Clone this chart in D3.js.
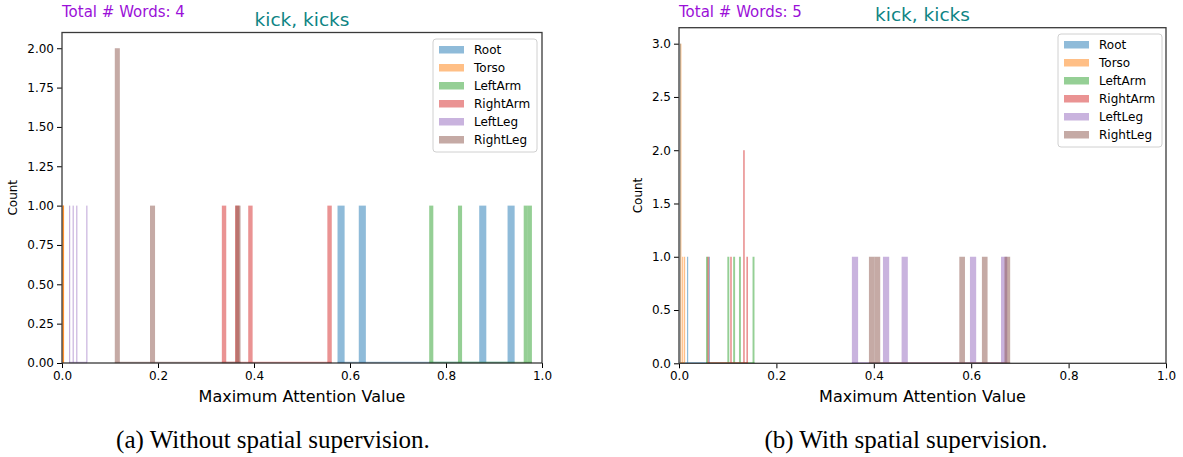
<!DOCTYPE html>
<html>
<head>
<meta charset="utf-8">
<script src="https://cdn.jsdelivr.net/npm/d3@7"></script>
<style>
  html, body { margin: 0; padding: 0; background: #fff; }
  svg { display: block; }
  text { font-family: "DejaVu Sans", sans-serif; }
</style>
</head>
<body>
<svg id="chart" width="1183" height="457"></svg>
<script>
// ---------------- DATA ----------------
const seriesNames = ["Root", "Torso", "LeftArm", "RightArm", "LeftLeg", "RightLeg"];
const seriesColors = ["#1f77b4", "#ff7f0e", "#2ca02c", "#d62728", "#9467bd", "#8c564b"];
const NUM_BINS = 25;

// Panel (a): Without spatial supervision (4 words)
const rootA     = [0.574, 0.626, 0.876, 0.943];
const torsoA    = [0.0005, 0.001, 0.0015, 0.002];
const leftArmA  = [0.765, 0.829, 0.966, 0.979];
const rightArmA = [0.333, 0.365, 0.392, 0.562];
const leftLegA  = [0.0146, 0.0229, 0.0297, 0.052];
const rightLegA = [0.110, 0.112, 0.189, 0.372];

// Panel (b): With spatial supervision (5 words)
const rootB     = [0.0015, 0.0025, 0.0035, 0.0165, 0.0635];
const torsoB    = [0.0025, 0.0026, 0.0027, 0.0065, 0.0105];
const leftArmB  = [0.0555, 0.1016, 0.114, 0.1235, 0.155];
const rightArmB = [0.0585, 0.107, 0.1325, 0.133, 0.1417];
const leftLegB  = [0.355, 0.425, 0.463, 0.603, 0.674];
const rightLegB = [0.390, 0.4075, 0.581, 0.6275, 0.680];

const xTicks  = [0.0, 0.2, 0.4, 0.6, 0.8, 1.0];
const yTicksA = [0.00, 0.25, 0.50, 0.75, 1.00, 1.25, 1.50, 1.75, 2.00];
const yTicksB = [0.0, 0.5, 1.0, 1.5, 2.0, 2.5, 3.0];

const titleText = "kick, kicks";
const wordsA = "Total # Words: 4";
const wordsB = "Total # Words: 5";
const captionA = "(a) Without spatial supervision.";
const captionB = "(b) With spatial supervision.";
const xLabel = "Maximum Attention Value";
const yLabel = "Count";

// ---------------- DRAW ----------------
const svg = d3.select("#chart");

function drawPanel(cfg) {
  const g = svg.append("g");
  const x = d3.scaleLinear().domain([0, 1]).range([cfg.left, cfg.right]);
  const y = d3.scaleLinear().domain([0, cfg.ymax]).range([cfg.bottom, cfg.top]);

  // bars
  cfg.series.forEach((vals, i) => {
    const lo = d3.min(vals), hi = d3.max(vals);
    const th = d3.range(1, NUM_BINS).map(k => lo + k * (hi - lo) / NUM_BINS);
    const bins = d3.bin().domain([lo, hi]).thresholds(th)(vals);
    const sg = g.append("g").attr("fill", seriesColors[i]).attr("fill-opacity", 0.5);
    // zero-height bin traces along the baseline
    sg.append("line")
      .attr("x1", x(lo)).attr("x2", x(hi))
      .attr("y1", y(0) - 0.5).attr("y2", y(0) - 0.5)
      .attr("stroke", seriesColors[i]).attr("stroke-opacity", 0.5).attr("stroke-width", 1.5);
    sg.selectAll("rect")
      .data(bins.filter(b => b.length > 0))
      .join("rect")
      .attr("x", b => x(b.x0))
      .attr("width", b => Math.max(x(b.x1) - x(b.x0), 1.2))
      .attr("y", b => y(b.length))
      .attr("height", b => y(0) - y(b.length));
  });

  // axes
  const xAxis = d3.axisBottom(x).tickValues(xTicks).tickFormat(d3.format(".1f"))
    .tickSize(5).tickPadding(3).tickSizeOuter(0);
  const yAxis = d3.axisLeft(y).tickValues(cfg.yTicks).tickFormat(d3.format(cfg.yFmt))
    .tickSize(5).tickPadding(3).tickSizeOuter(0);
  const gx = g.append("g").attr("transform", `translate(0,${cfg.bottom})`).call(xAxis);
  const gy = g.append("g").attr("transform", `translate(${cfg.left},0)`).call(yAxis);
  [gx, gy].forEach(a => {
    a.select(".domain").remove();
    a.selectAll("text").attr("font-size", 12).attr("fill", "#000")
      .style("font-family", "'DejaVu Sans', sans-serif");
    a.selectAll("line").attr("stroke", "#000").attr("stroke-width", 1);
  });

  // spines
  g.append("rect")
    .attr("x", cfg.left).attr("y", cfg.top)
    .attr("width", cfg.right - cfg.left).attr("height", cfg.bottom - cfg.top)
    .attr("fill", "none").attr("stroke", "#3a3a3a").attr("stroke-width", 1.3);

  // legend
  const lg = g.append("g").attr("transform", `translate(${cfg.legX},${cfg.legY})`);
  lg.append("rect").attr("x", 0).attr("y", 0).attr("width", 104).attr("height", 113)
    .attr("rx", 3).attr("fill", "#fff").attr("fill-opacity", 0.8)
    .attr("stroke", "#d0d0d0").attr("stroke-width", 1);
  seriesNames.forEach((name, i) => {
    const cy = 10.5 + i * 18;
    lg.append("rect").attr("x", 6).attr("y", cy - 3.5).attr("width", 25).attr("height", 7.5)
      .attr("fill", seriesColors[i]).attr("fill-opacity", 0.5);
    lg.append("text").attr("x", 41).attr("y", cy).attr("dy", "0.35em")
      .attr("font-size", 12).attr("fill", "#000").text(name);
  });

  // labels
  g.append("text").attr("x", (cfg.left + cfg.right) / 2).attr("y", cfg.bottom + 39)
    .attr("text-anchor", "middle").attr("font-size", 16).attr("fill", "#000").text(xLabel);
  g.append("text")
    .attr("transform", `translate(${cfg.yLabX},${(cfg.top + cfg.bottom) / 2}) rotate(-90)`)
    .attr("text-anchor", "middle").attr("font-size", 12).attr("fill", "#000").text(yLabel);
  g.append("text").attr("x", cfg.left).attr("y", 17)
    .attr("font-size", 15).attr("fill", "#9b10d8").text(cfg.words);
  g.append("text").attr("x", (cfg.left + cfg.right) / 2).attr("y", cfg.titleY)
    .attr("text-anchor", "middle").attr("font-size", 18.5).attr("fill", "#0e8484").text(titleText);
  svg.append("text").attr("x", cfg.capX).attr("y", 448)
    .attr("text-anchor", "middle").attr("font-size", 25)
    .style("font-family", "'Liberation Serif', 'Times New Roman', serif")
    .attr("fill", "#000").text(cfg.caption);
}

drawPanel({
  left: 62, right: 542, top: 32.5, bottom: 363, ymax: 2.1,
  yTicks: yTicksA, yFmt: ".2f",
  series: [rootA, torsoA, leftArmA, rightArmA, leftLegA, rightLegA],
  legX: 433, legY: 39, yLabX: 17, words: wordsA, titleY: 26,
  caption: captionA, capX: 273
});

drawPanel({
  left: 679, right: 1166, top: 27.7, bottom: 363.3, ymax: 3.15,
  yTicks: yTicksB, yFmt: ".1f",
  series: [rootB, torsoB, leftArmB, rightArmB, leftLegB, rightLegB],
  legX: 1058, legY: 34, yLabX: 642, words: wordsB, titleY: 21,
  caption: captionB, capX: 906
});
</script>
</body>
</html>
